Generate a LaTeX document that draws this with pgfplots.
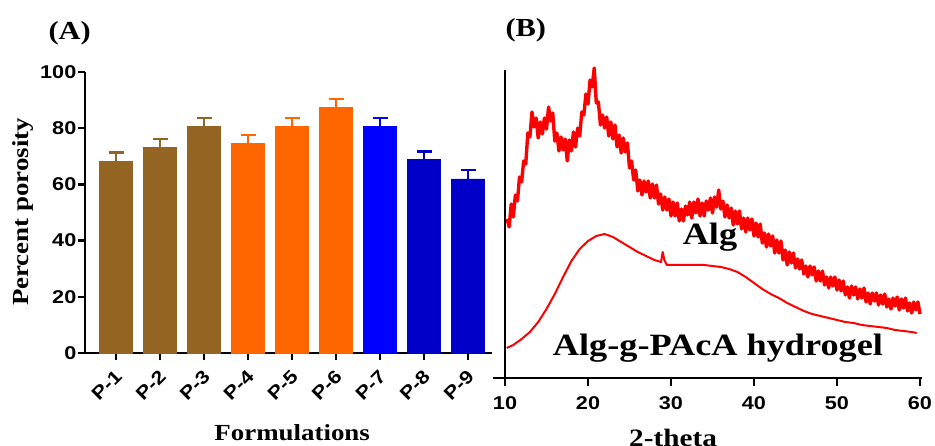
\documentclass[border=0pt]{standalone}
\usepackage{fontspec}
\setmainfont{Liberation Serif}[FakeStretch=1.17]
\newfontfamily\sansw{Liberation Sans}[FakeStretch=1.17]
\usepackage{pgfplots}
\pgfplotsset{compat=1.18}

\definecolor{brownbar}{RGB}{147,100,34}
\definecolor{orangebar}{RGB}{255,102,0}
\definecolor{bluebar}{RGB}{0,0,255}
\definecolor{navybar}{RGB}{0,0,200}
\definecolor{xrdred}{RGB}{255,0,0}

\newcommand{\tickfont}{\sansw\bfseries\fontsize{18.5}{18.5}\selectfont}
\newcommand{\labfont}{\bfseries\fontsize{23}{23}\selectfont}

\pgfplotsset{
  errbar/.style={
    error bars/.cd, y dir=plus, y explicit,
    error bar style={line width=2.3pt, draw=#1},
    error mark options={rotate=90, mark size=7.5pt, line width=2.3pt, draw=#1}},
}

\begin{document}
\begin{tikzpicture}
\useasboundingbox (0pt,0pt) rectangle (935pt,446pt);

\node[anchor=base west, font=\bfseries\fontsize{26}{26}\selectfont] at (45pt,406pt) {(A)};
\node[anchor=base west, font=\bfseries\fontsize{26}{26}\selectfont] at (502pt,409pt) {(B)};

% (A) porosity bars
\begin{axis}[
  at={(85pt,93pt)}, anchor=south west,
  scale only axis, width=407pt, height=281pt,
  xmin=0.295, xmax=9.545, ymin=0, ymax=100,
  axis lines=left, axis line style={-, line width=2.5pt},
  tick align=outside, major tick length=7pt,
  tick style={line width=2.5pt, black},
  ytick={0,20,...,100},
  xtick={1,...,9},
  xticklabels={P-1,P-2,P-3,P-4,P-5,P-6,P-7,P-8,P-9},
  /pgf/number format/assume math mode=true,
  yticklabel style={font=\tickfont, inner sep=1.5pt},
  xticklabel style={font=\tickfont, xshift=-2pt, yshift=-7pt, rotate=45, anchor=north east, inner sep=1pt},
  ylabel={Percent porosity},
  ylabel style={font=\labfont, at={(axis description cs:-0.152,0.502)}, anchor=center},
  xlabel={Formulations},
  xlabel style={font=\labfont, at={(axis description cs:0.509,-0.285)}, anchor=center},
  bar width=33pt,
  clip=false,
]
\addplot[ybar, bar shift=0pt, fill=brownbar, draw=brownbar, errbar=brownbar]
  coordinates {(1,68.3) +- (0,3.0) (2,73.3) +- (0,2.9) (3,80.7) +- (0,2.9)};
\addplot[ybar, bar shift=0pt, fill=orangebar, draw=orangebar, errbar=orangebar]
  coordinates {(4,74.6) +- (0,3.0) (5,80.7) +- (0,2.9) (6,87.5) +- (0,3.0)};
\addplot[ybar, bar shift=0pt, fill=bluebar, draw=bluebar, errbar=bluebar]
  coordinates {(7,80.7) +- (0,2.9)};
\addplot[ybar, bar shift=0pt, fill=navybar, draw=navybar, errbar=navybar]
  coordinates {(8,68.8) +- (0,2.9) (9,62.0) +- (0,3.0)};
\end{axis}

% (B) XRD patterns
\begin{axis}[
  at={(505pt,68pt)}, anchor=south west,
  scale only axis, width=415pt, height=308pt,
  xmin=10, xmax=60, ymin=0, ymax=308,
  axis lines=left, axis line style={-, line width=2.5pt},
  x axis line style={shorten <=-12pt, shorten >=-2pt},
  tick align=outside, major tick length=8pt,
  tick style={line width=2.5pt, black},
  xtick={10,20,...,60}, ytick=\empty,
  /pgf/number format/assume math mode=true,
  xticklabel style={font=\tickfont, yshift=-7pt},
  xlabel={2-theta},
  xlabel style={font=\bfseries\fontsize{25}{25}\selectfont, inner sep=0pt, at={(axis description cs:0.405,-0.166)}, anchor=north},
  clip=false,
]
\addplot[xrdred, line width=3.4pt, line join=round] coordinates {
(10.25,159) (10.5,151) (10.75,174) (11.0,161) (11.25,183) (11.5,177) (11.75,201) (12.0,196)
(12.25,217) (12.5,214) (12.75,245) (13.0,241) (13.25,266) (13.5,251) (13.75,260) (14.0,240)
(14.25,256) (14.5,244) (14.75,260) (15.0,249) (15.25,271) (15.5,257) (15.75,265) (16.0,237)
(16.25,245) (16.5,227) (16.75,241) (17.0,228) (17.25,239) (17.5,217) (17.75,238) (18.0,227)
(18.25,246) (18.5,231) (18.75,250) (19.0,242) (19.25,266) (19.5,263) (19.75,284) (20.0,274)
(20.25,298) (20.5,291) (20.75,310) (21.0,275) (21.25,276) (21.5,253) (21.75,263) (22.0,250)
(22.25,261) (22.5,242) (22.75,256) (23.0,239) (23.25,253) (23.5,231) (23.75,243) (24.0,225)
(24.25,240) (24.5,226) (24.75,235) (25.0,210) (25.25,217) (25.5,198) (25.75,208) (26.0,187)
(26.25,198) (26.5,183) (26.75,197) (27.0,186) (27.25,197) (27.5,180) (27.75,194) (28.0,180)
(28.25,193) (28.5,174) (28.75,184) (29.0,168) (29.25,181) (29.5,168) (29.75,179) (30.0,162)
(30.25,176) (30.5,162) (30.75,175) (31.0,157) (31.25,169) (31.5,157) (31.75,172) (32.0,163)
(32.25,176) (32.5,160) (32.75,176) (33.0,165) (33.25,179) (33.5,162) (33.75,175) (34.0,162)
(34.25,177) (34.5,168) (34.75,180) (35.0,165) (35.25,181) (35.5,171) (35.75,188) (36.0,169)
(36.25,177) (36.5,161) (36.75,173) (37.0,160) (37.25,170) (37.5,153) (37.75,167) (38.0,154)
(38.25,167) (38.5,149) (38.75,160) (39.0,146) (39.25,160) (39.5,148) (39.75,159) (40.0,142)
(40.25,155) (40.5,141) (40.75,154) (41.0,135) (41.25,145) (41.5,131) (41.75,144) (42.0,132)
(42.25,142) (42.5,125) (42.75,138) (43.0,125) (43.25,137) (43.5,118) (43.75,128) (44.0,113)
(44.25,126) (44.5,115) (44.75,125) (45.0,110) (45.25,119) (45.5,109) (45.75,118) (46.0,104)
(46.25,112) (46.5,101) (46.75,112) (47.0,103) (47.25,111) (47.5,97) (47.75,107) (48.0,97)
(48.25,107) (48.5,93) (48.75,101) (49.0,90) (49.25,101) (49.5,92) (49.75,101) (50.0,88)
(50.25,98) (50.5,87) (50.75,97) (51.0,83) (51.25,91) (51.5,80) (51.75,92) (52.0,83)
(52.25,91) (52.5,79) (52.75,89) (53.0,80) (53.25,90) (53.5,76) (53.75,85) (54.0,74)
(54.25,85) (54.5,77) (54.75,85) (55.0,73) (55.25,83) (55.5,74) (55.75,84) (56.0,71)
(56.25,79) (56.5,69) (56.75,80) (57.0,72) (57.25,81) (57.5,68) (57.75,79) (58.0,70)
(58.25,80) (58.5,67) (58.75,75) (59.0,65) (59.25,76) (59.5,68) (59.75,76) (60.0,64)
};
\addplot[xrdred, line width=2pt, line join=round] coordinates {
(10.2,30) (11.0,33) (12.0,39) (13.0,46) (14.0,56) (15.0,69) (16.0,84) (17.0,101)
(18.0,117) (19.0,129) (20.0,137) (21.0,142) (22.0,144) (23.0,141) (24.0,136) (25.0,131)
(26.0,126) (27.0,122) (28.0,118) (28.8,116) (29.0,126) (29.2,118) (29.5,113) (30.0,113)
(31.0,113) (32.0,113) (33.0,113) (34.0,113) (35.0,112) (36.0,111) (37.0,109) (38.0,106)
(39.0,101) (40.0,95) (41.0,89) (42.0,84) (43.0,80) (44.0,75) (45.0,71) (46.0,67)
(47.0,64) (48.0,62) (49.0,60) (50.0,58) (51.0,56) (52.0,55) (53.0,53) (54.0,52)
(55.0,51) (56.0,50) (57.0,48) (58.0,47) (59.0,46) (59.6,45)
};
\node[anchor=base, font=\bfseries\fontsize{31}{31}\selectfont] at (axis cs:34.7,133) {Alg};
\node[anchor=base, font=\bfseries\fontsize{31}{31}\selectfont] at (axis cs:35.66,22) {Alg-g-PAcA hydrogel};
\end{axis}
\end{tikzpicture}
\end{document}
